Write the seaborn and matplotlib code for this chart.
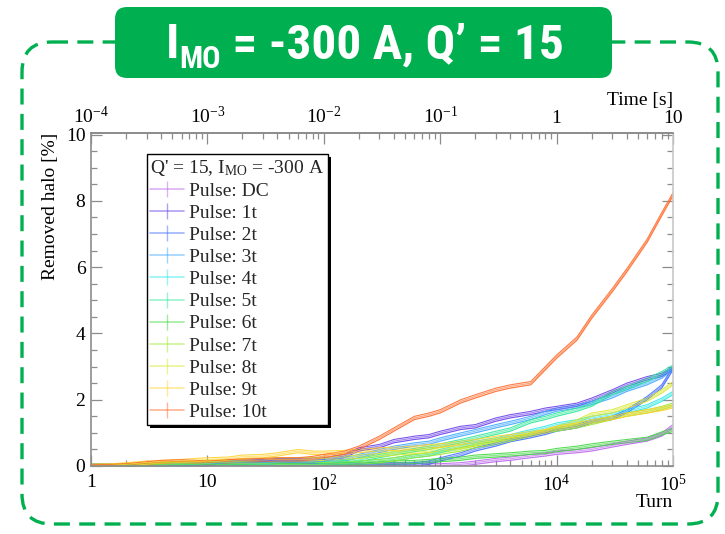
import matplotlib
matplotlib.use("Agg")
import matplotlib.pyplot as plt
import numpy as np
import pandas as pd
import seaborn as sns
from matplotlib.patches import FancyBboxPatch
from matplotlib.lines import Line2D
from matplotlib import font_manager
from matplotlib.ticker import FixedLocator, NullFormatter, MultipleLocator

# ---- data -------------------------------------------------------------
turns = [1, 1.5, 2, 3, 4, 6, 8, 10, 15, 20, 30, 40, 60, 80, 100, 150, 200, 300,
         400, 600, 800, 1000, 1500, 2000, 3000, 4000, 6000, 8000, 10000, 15000,
         20000, 30000, 40000, 60000, 80000, 100000]

pulse_labels = ["DC", "1t", "2t", "3t", "4t", "5t", "6t", "7t", "8t", "9t", "10t"]

halo_dc = [0, 0, 0, 0, 0, 0.02, 0.02, 0.02, 0, 0, 0.02, 0.02, 0.02, 0.02, 0.02, 0.02, 0.02, 0.02,
           0.02, 0.02, 0.02, 0.02, 0.05, 0.1, 0.18, 0.22, 0.3, 0.35, 0.4, 0.45,
           0.5, 0.62, 0.7, 0.8, 0.95, 1.2]
halo_1t = [0, 0, 0, 0, 0, 0, 0, 0, 0.15, 0.15, 0.15, 0.18, 0.18, 0.2, 0.2, 0.3, 0.5, 0.6,
           0.75, 0.85, 0.9, 1.0, 1.15, 1.2, 1.4, 1.5, 1.6, 1.7, 1.75, 1.85,
           2.0, 2.25, 2.45, 2.65, 2.75, 2.95]
halo_2t = [0, 0, 0, 0, 0, 0.02, 0.02, 0.05, 0.1, 0.1, 0.12, 0.12, 0.1, 0.08, 0.05, 0.05, 0.05, 0.05,
           0.05, 0.05, 0.1, 0.2, 0.35, 0.5, 0.65, 0.78, 0.9, 1.0, 1.1, 1.2,
           1.35, 1.45, 1.65, 2.05, 2.4, 2.95]
halo_3t = [0, 0, 0, 0, 0.05, 0.08, 0.1, 0.1, 0.05, 0.05, 0.1, 0.12, 0.12, 0.1, 0.15, 0.2, 0.3, 0.45,
           0.55, 0.65, 0.7, 0.8, 0.95, 1.05, 1.2, 1.3, 1.45, 1.6, 1.7, 1.8,
           1.9, 2.1, 2.3, 2.5, 2.7, 2.95]
halo_4t = [0, 0, 0, 0, 0.02, 0.03, 0.05, 0.08, 0.1, 0.1, 0.08, 0.05, 0.05, 0.05, 0.05, 0.05, 0.1, 0.15,
           0.2, 0.3, 0.35, 0.45, 0.6, 0.7, 0.8, 0.9, 1.05, 1.15, 1.25, 1.35,
           1.45, 1.55, 1.65, 1.8, 2.0, 2.2]
halo_5t = [0, 0, 0, 0, 0.02, 0.05, 0.05, 0.05, 0.05, 0.05, 0.05, 0.05, 0.05, 0.05, 0.08, 0.12, 0.18, 0.3,
           0.38, 0.48, 0.55, 0.62, 0.75, 0.85, 1.0, 1.1, 1.35, 1.45, 1.55, 1.7,
           1.85, 2.2, 2.35, 2.6, 2.8, 3.0]
halo_6t = [0, 0, 0, 0.02, 0.05, 0.05, 0.05, 0.05, 0.05, 0.05, 0.03, 0.03, 0.03, 0.03, 0.03, 0.05, 0.05, 0.08,
           0.1, 0.12, 0.15, 0.18, 0.22, 0.28, 0.32, 0.35, 0.4, 0.42, 0.48, 0.55,
           0.62, 0.7, 0.75, 0.82, 0.98, 1.1]
halo_7t = [0, 0, 0, 0.02, 0.05, 0.08, 0.08, 0.1, 0.1, 0.08, 0.08, 0.05, 0.05, 0.05, 0.05, 0.08, 0.1, 0.15,
           0.2, 0.3, 0.35, 0.4, 0.5, 0.6, 0.7, 0.8, 0.95, 1.05, 1.1, 1.2,
           1.3, 1.45, 1.55, 1.65, 1.75, 1.85]
halo_8t = [0, 0, 0.02, 0.05, 0.08, 0.1, 0.1, 0.12, 0.15, 0.15, 0.18, 0.2, 0.2, 0.2, 0.22, 0.25, 0.28, 0.33,
           0.38, 0.42, 0.45, 0.5, 0.58, 0.65, 0.78, 0.85, 0.95, 1.05, 1.15, 1.35,
           1.55, 1.65, 1.8, 2.0, 2.25, 2.5]
halo_9t = [0, 0.02, 0.05, 0.1, 0.12, 0.15, 0.18, 0.2, 0.22, 0.28, 0.3, 0.35, 0.45, 0.4, 0.4, 0.42, 0.45, 0.5,
           0.52, 0.55, 0.6, 0.62, 0.7, 0.75, 0.85, 0.9, 1.0, 1.05, 1.15, 1.25,
           1.35, 1.45, 1.55, 1.65, 1.72, 1.8]
halo_10t = [0, 0, 0.02, 0.08, 0.12, 0.14, 0.12, 0.1, 0.14, 0.16, 0.18, 0.2, 0.2, 0.24, 0.3, 0.4, 0.55, 0.85,
            1.1, 1.45, 1.55, 1.65, 1.95, 2.1, 2.3, 2.4, 2.5, 2.95, 3.3, 3.85,
            4.5, 5.3, 5.9, 6.8, 7.6, 8.2]

halo_series = [halo_dc, halo_1t, halo_2t, halo_3t, halo_4t, halo_5t,
               halo_6t, halo_7t, halo_8t, halo_9t, halo_10t]
stat_error = 0.05  # half-width of the statistical band [%]

colors = ["#bb66ee", "#6a3fe8", "#3f6cff", "#3fa8ff", "#2ee6e6", "#2ee89a",
          "#3fd83f", "#9be82e", "#dbe82e", "#ffd22e", "#ff6a2a"]

xtick_vals = [1, 10, 100, 1000, 10000, 100000]
xtick_text = ["1", "10", "$10^{2}$", "$10^{3}$", "$10^{4}$", "$10^{5}$"]
ttick_vals = [1e-4, 1e-3, 1e-2, 1e-1, 1, 10]
ttick_text = ["$10^{-4}$", "$10^{-3}$", "$10^{-2}$", "$10^{-1}$", "1", "10"]
turn_period = 1e-4  # seconds per turn on the time axis

# ---- style ------------------------------------------------------------
sns.set_theme(style="white")
serif = ["Liberation Serif", "DejaVu Serif"]
plt.rcParams["font.family"] = serif
plt.rcParams["mathtext.fontset"] = "custom"
plt.rcParams["mathtext.rm"] = "Liberation Serif"
plt.rcParams["mathtext.it"] = "Liberation Serif:italic"
plt.rcParams["mathtext.bf"] = "Liberation Serif:bold"

installed = {f.name for f in font_manager.fontManager.ttflist}
title_family = ["Liberation Sans"]
for cand in ["Liberation Sans Narrow", "Roboto Condensed", "Archivo Narrow"]:
    if cand in installed:
        title_family = [cand]
        break
GREEN = "#00b050"
AXCOL = "#8c8c8c"
FS = 14

fig = plt.figure(figsize=(7.25, 5.34), dpi=100)

# frame layer in pixel coordinates
bg = fig.add_axes([0, 0, 1, 1], zorder=0)
bg.set_xlim(0, 725)
bg.set_ylim(534, 0)
bg.axis("off")
bg.add_patch(FancyBboxPatch((22, 42), 696, 482,
                            boxstyle="round,pad=0,rounding_size=30",
                            fill=False, ec=GREEN, lw=2.4, ls=(0, (4.8, 2.8))))
bg.add_patch(FancyBboxPatch((115, 7), 497, 71,
                            boxstyle="round,pad=0,rounding_size=12",
                            fc=GREEN, ec="none", zorder=3))

# ---- main axes --------------------------------------------------------
ax = fig.add_axes([91 / 725, 68 / 534, 582 / 725, 333 / 534], zorder=2)
ax.set_facecolor("white")

rows = []
for lab, vals in zip(pulse_labels, halo_series):
    for t, v in zip(turns, vals):
        rows.append({"turn": t, "halo": v, "pulse": "Pulse: " + lab})
df = pd.DataFrame(rows)
palette = {"Pulse: " + l: c for l, c in zip(pulse_labels, colors)}

t_arr = np.array(turns, dtype=float)
for lab, vals, c in zip(pulse_labels, halo_series, colors):
    v = np.array(vals)
    ax.fill_between(t_arr, v - stat_error, v + stat_error, color=c, alpha=0.2, lw=0)
    ax.plot(t_arr, v + stat_error, color=c, lw=0.75, alpha=0.9)
    ax.plot(t_arr, v - stat_error, color=c, lw=0.75, alpha=0.9)

sns.lineplot(data=df, x="turn", y="halo", hue="pulse", palette=palette,
             lw=0.6, alpha=0.6, legend=False, ax=ax, estimator=None, sort=False)

ax.set_xscale("log")
ax.set_xlim(1, 1e5)
ax.set_ylim(0, 10.05)
ax.xaxis.set_major_locator(FixedLocator(xtick_vals))
ax.set_xticklabels(xtick_text)
ax.xaxis.set_minor_formatter(NullFormatter())
ax.yaxis.set_major_locator(MultipleLocator(2))
ax.yaxis.set_minor_locator(MultipleLocator(0.5))

for s in ax.spines.values():
    s.set_color(AXCOL)
    s.set_linewidth(1.2)
ax.spines["right"].set_color("#c8c8c8")
ax.tick_params(axis="both", which="both", direction="in", colors=AXCOL,
               labelcolor="black", labelsize=FS, width=0.9)
ax.tick_params(axis="x", which="both", top=False, bottom=True)
ax.tick_params(axis="y", which="both", left=True, right=True)
ax.tick_params(axis="x", which="major", length=8, pad=6)
ax.tick_params(axis="x", which="minor", length=4)
ax.tick_params(axis="y", which="major", length=8, pad=4)
ax.tick_params(axis="y", which="minor", length=4)

ax.set_xlabel("Turn", fontsize=FS, color="black")
ax.xaxis.set_label_coords(1.0, -0.085)
ax.xaxis.label.set_ha("right")
ax.set_ylabel("Removed halo [%]", fontsize=FS, color="black")
ax.yaxis.set_label_coords(-0.07, 1.0)
ax.yaxis.label.set_ha("right")
ax.yaxis.label.set_va("center")

sec = ax.secondary_xaxis("top", functions=(lambda t: t * turn_period,
                                           lambda s: s / turn_period))
sec.set_xticks(ttick_vals)
sec.set_xticklabels(ttick_text)
sec.xaxis.set_minor_formatter(NullFormatter())
sec.spines["top"].set_color(AXCOL)
sec.tick_params(axis="x", which="both", direction="in", colors=AXCOL,
                labelcolor="black", labelsize=FS, width=0.9)
sec.tick_params(axis="x", which="major", length=8, pad=4)
sec.tick_params(axis="x", which="minor", length=4)
sec.set_xlabel("Time [s]", fontsize=FS, color="black", loc="right", labelpad=1)

# ---- legend -----------------------------------------------------------
handles = [Line2D([0], [0], color=c, lw=1.2, alpha=0.5, marker="|",
                  markersize=12, markeredgewidth=1.0)
           for c in colors]
leg = ax.legend(handles, ["Pulse: " + l for l in pulse_labels],
                title="Q' = 15, I$_{\\rm MO}$ = -300 A",
                loc="upper left", bbox_to_anchor=(0.0955, 0.937),
                borderaxespad=0, frameon=True, fancybox=False, shadow=False,
                fontsize=FS, title_fontsize=FS, handlelength=1.7,
                handletextpad=0.3, labelspacing=0.23, borderpad=0.2,
                alignment="left")
leg.get_frame().set_edgecolor("black")
leg.get_frame().set_linewidth(1.0)
leg.get_frame().set_alpha(1.0)

# drop shadow under the legend
fig.canvas.draw()
bb = leg.get_window_extent()
shadow = plt.Rectangle((bb.x0 + 3, bb.y0 - 3), bb.width, bb.height,
                       transform=None, fc="black", ec="none")
ax.add_artist(shadow)
shadow.set_zorder(leg.get_zorder() - 0.1)

# ---- banner title -----------------------------------------------------
renderer = fig.canvas.get_renderer()
inv = bg.transData.inverted()
title_size = 35.5
base_y = 58
parts = [("I", title_size, 0), ("MO", title_size * 0.62, 10), (" = -300 A, Q\u2019 = 15", title_size, 0)]
x_cursor = 166
for txt, size, drop in parts:
    t = bg.text(x_cursor, base_y + drop, txt, color="white", fontsize=size,
                fontweight="bold", family=title_family, ha="left",
                va="baseline", zorder=4)
    ext = t.get_window_extent(renderer)
    x_cursor = inv.transform((ext.x1, ext.y0))[0]

fig.savefig("out.png", dpi=100)
